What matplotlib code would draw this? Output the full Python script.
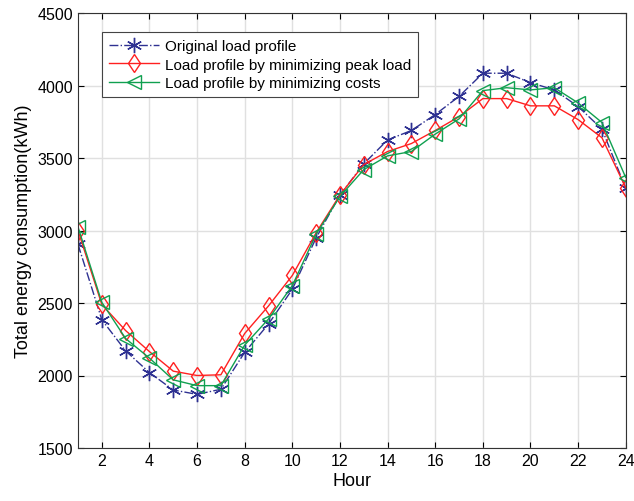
import matplotlib
matplotlib.use("Agg")
import matplotlib.pyplot as plt

plt.rcParams['font.family'] = ['Liberation Sans', 'DejaVu Sans']

# hourly load profiles (kWh)
hours = list(range(1, 25))
original = [2905, 2385, 2170, 2020, 1900, 1870, 1905, 2160, 2355, 2595, 2950, 3245,
            3460, 3625, 3690, 3800, 3925, 4085, 4085, 4020, 3970, 3855, 3700, 3290]
min_peak = [3000, 2490, 2310, 2165, 2030, 2000, 2005, 2290, 2480, 2690, 2985, 3245,
            3455, 3545, 3600, 3690, 3785, 3910, 3910, 3860, 3860, 3765, 3640, 3295]
min_cost = [3025, 2505, 2255, 2120, 1970, 1930, 1930, 2210, 2390, 2620, 2975, 3235,
            3420, 3515, 3545, 3665, 3770, 3965, 3985, 3970, 3985, 3880, 3745, 3365]

xticks = list(range(2, 25, 2))
yticks = [1500, 2000, 2500, 3000, 3500, 4000, 4500]

fig = plt.figure(figsize=(6.34, 5.02), dpi=100)
ax = fig.add_axes([0.123, 0.1056, 0.864, 0.8664])

# asterisk marker like matlab's '*'
ax.plot(hours, original, '-.', color='#2e3192', marker=(6, 2, 0), markersize=11,
        markeredgewidth=1, linewidth=1, label='Original load profile')
ax.plot(hours, min_peak, '-', color='#ff2020', marker='d', markersize=9.5,
        markerfacecolor='none', linewidth=1, label='Load profile by minimizing peak load')
ax.plot(hours, min_cost, '-', color='#10a050', marker='<', markersize=10,
        markerfacecolor='none', linewidth=1, label='Load profile by minimizing costs')

ax.set_xlim(1, 24)
ax.set_ylim(1500, 4500)
ax.set_xticks(xticks)
ax.set_yticks(yticks)
ax.grid(True, color='#e0e0e0', linewidth=1)
ax.set_axisbelow(True)
ax.tick_params(direction='in', top=True, right=True, labelsize=11.5, length=4)
for s in ax.spines.values():
    s.set_color('#333333')

ax.set_xlabel('Hour', fontsize=13, labelpad=3)
ax.set_ylabel('Total energy consumption(kWh)', fontsize=13, labelpad=4)

leg = ax.legend(loc='upper left', bbox_to_anchor=(0.044, 0.956), fontsize=11,
                fancybox=False, framealpha=1, edgecolor='#444444', borderaxespad=0,
                handlelength=3.3, handletextpad=0.35, borderpad=0.45, labelspacing=0.3)
leg.get_frame().set_linewidth(0.8)

fig.savefig('out.png', dpi=100)
